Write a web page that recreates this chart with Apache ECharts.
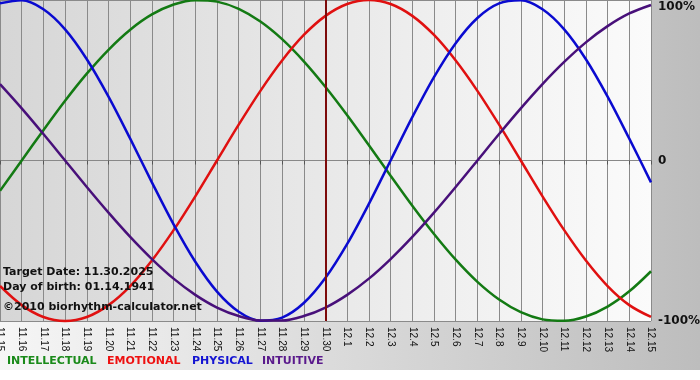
<!DOCTYPE html>
<html>
<head>
<meta charset="UTF-8">
<title>Biorhythm</title>
<script src="https://cdn.jsdelivr.net/npm/echarts@6/dist/echarts.min.js"></script>
<style>
html, body { margin: 0; padding: 0; background: #fff; }
</style>
</head>
<body>
<div id="main" style="width:700px;height:380px;"></div>
<script type="text/javascript">
// days shown on the x axis
var days = ['11.15','11.16','11.17','11.18','11.19','11.20','11.21','11.22','11.23','11.24',
            '11.25','11.26','11.27','11.28','11.29','11.30','12.1','12.2','12.3','12.4',
            '12.5','12.6','12.7','12.8','12.9','12.10','12.11','12.12','12.13','12.14','12.15'];

// cycle values per day (-1 .. 1)
var intellectual = [-0.189, 0, 0.189, 0.372, 0.541, 0.690, 0.815, 0.910, 0.972, 0.999, 0.990, 0.945, 0.866, 0.756, 0.618, 0.458,
                    0.282, 0.095, -0.095, -0.282, -0.458, -0.618, -0.756, -0.866, -0.945, -0.990, -0.999, -0.972, -0.910, -0.815, -0.690];
var emotional = [-0.782, -0.901, -0.975, -1.000, -0.975, -0.901, -0.782, -0.623, -0.434, -0.223, 0, 0.223, 0.434, 0.623, 0.782, 0.901,
                 0.975, 1.000, 0.975, 0.901, 0.782, 0.623, 0.434, 0.223, 0, -0.223, -0.434, -0.623, -0.782, -0.901, -0.975];
var physical = [0.979, 0.998, 0.942, 0.817, 0.631, 0.398, 0.136, -0.136, -0.398, -0.631, -0.817, -0.942, -0.998, -0.979, -0.888, -0.731,
                -0.520, -0.270, 0, 0.270, 0.520, 0.731, 0.888, 0.979, 0.998, 0.942, 0.817, 0.631, 0.398, 0.136, -0.136];
var intuitive = [0.476, 0.325, 0.165, 0, -0.165, -0.325, -0.476, -0.614, -0.736, -0.837, -0.916, -0.969, -0.997, -0.997, -0.969, -0.916,
                 -0.837, -0.736, -0.614, -0.476, -0.325, -0.165, 0, 0.165, 0.325, 0.476, 0.614, 0.736, 0.837, 0.916, 0.969];

var yLabels = { '1': '100%', '0': '0', '-1': '-100%' };
var targetDay = '11.30';
var infoLines = ['Target Date: 11.30.2025', 'Day of birth: 01.14.1941', '\u00a92010 biorhythm-calculator.net'];
var legendNames = ['INTELLECTUAL', 'EMOTIONAL', 'PHYSICAL', 'INTUITIVE'];

var lineColors = ['#137a13', '#e01010', '#0a0ad0', '#48107a'];
var textColors = ['#1a8a1a', '#ee1111', '#1414d2', '#5a1a8c'];

var myChart = echarts.init(document.getElementById('main'));

var boldFont = 'bold 11px "DejaVu Sans"';
var graphics = [
    {
        type: 'rect', silent: true, z: -100,
        shape: { x: 0, y: 0, width: 700, height: 370 },
        style: { fill: new echarts.graphic.LinearGradient(0, 0, 1, 0, [
            { offset: 0, color: '#f6f6f6' }, { offset: 1, color: '#bdbdbd' }]) }
    }
];
var infoY = [272, 287, 307];
infoLines.forEach(function (t, i) {
    graphics.push({ type: 'text', x: 3, y: infoY[i], z: 100, silent: true,
        style: { text: t, font: boldFont, fill: '#111', verticalAlign: 'middle' } });
});
var legendX = [7, 107, 192, 262];
legendNames.forEach(function (t, i) {
    graphics.push({ type: 'text', x: legendX[i], y: 361, z: 100, silent: true,
        style: { text: t, font: boldFont, fill: textColors[i], verticalAlign: 'middle' } });
});

function makeSeries(name, data, idx) {
    return {
        name: name,
        type: 'line',
        data: data,
        smooth: 0.33,
        showSymbol: false,
        clip: false,
        lineStyle: { width: 2.5, color: lineColors[idx] },
        itemStyle: { color: lineColors[idx] }
    };
}

var series = [
    makeSeries('INTELLECTUAL', intellectual, 0),
    makeSeries('EMOTIONAL', emotional, 1),
    makeSeries('PHYSICAL', physical, 2),
    makeSeries('INTUITIVE', intuitive, 3)
];
series[0].markLine = {
    silent: true,
    symbol: ['none', 'none'],
    label: { show: false },
    lineStyle: { color: '#7d0a0a', width: 2, type: 'solid' },
    data: [{ xAxis: targetDay }]
};

var option = {
    animation: false,
    backgroundColor: 'transparent',
    grid: {
        left: 0, right: 49, top: 0, bottom: 59,
        containLabel: false,
        outerBoundsMode: 'none',
        show: true,
        borderWidth: 0,
        backgroundColor: new echarts.graphic.LinearGradient(0, 0, 1, 0, [
            { offset: 0, color: '#d6d6d6' }, { offset: 1, color: '#fbfbfb' }])
    },
    xAxis: {
        type: 'category',
        data: days,
        boundaryGap: false,
        axisLine: { lineStyle: { color: '#888', width: 1 } },
        axisTick: { show: true, interval: 0, length: 4, lineStyle: { color: '#555' } },
        axisLabel: {
            interval: 0, rotate: -90, margin: 6,
            fontSize: 10, fontFamily: 'Liberation Sans', color: '#111'
        },
        splitLine: { show: true, interval: 0, lineStyle: { color: '#8a8a8a', width: 1 } }
    },
    yAxis: {
        type: 'value',
        position: 'right',
        min: -1, max: 1, interval: 1,
        axisLine: { show: false },
        axisTick: { show: false },
        splitLine: { lineStyle: { color: '#8a8a8a', width: 1 } },
        axisLabel: {
            margin: 7,
            fontSize: 12, fontWeight: 'bold', fontFamily: 'DejaVu Sans', color: '#111',
            formatter: function (v) {
                var s = yLabels[String(v)];
                return v === 1 ? '{t|' + s + '}' : s;
            },
            rich: {
                t: { padding: [13, 0, 0, 0], fontSize: 12, fontWeight: 'bold', fontFamily: 'DejaVu Sans', color: '#111' }
            }
        }
    },
    graphic: graphics,
    series: series
};

myChart.setOption(option);
</script>
</body>
</html>
